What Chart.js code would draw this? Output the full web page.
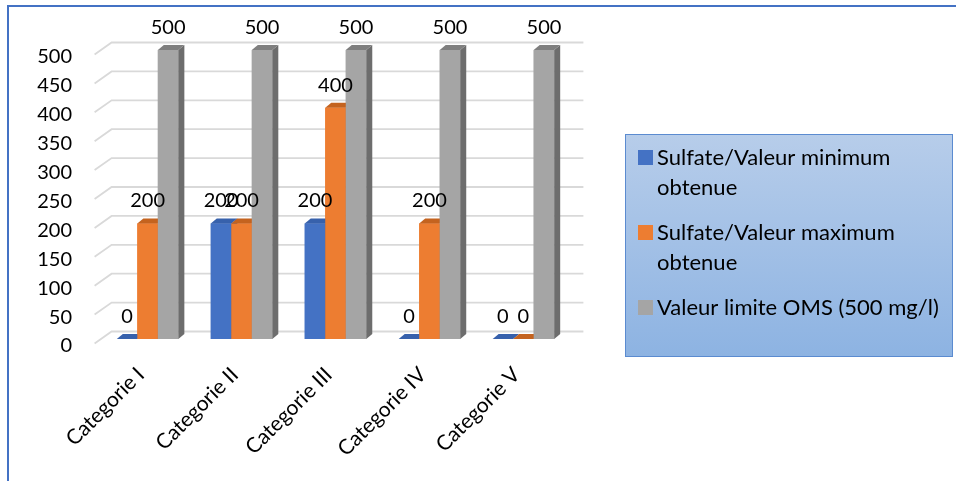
<!DOCTYPE html>
<html>
<head>
<meta charset="utf-8">
<script src="https://cdn.jsdelivr.net/npm/chart.js@4.4.0/dist/chart.umd.min.js"></script>
<style>
  html, body { margin: 0; padding: 0; background: #ffffff; }
  #wrap { position: relative; width: 956px; height: 481px; }
  canvas { display: block; }
</style>
</head>
<body>
<div id="wrap"><canvas id="c" width="956" height="481"></canvas></div>
<script>
// Sulfate concentrations (mg/l) per water category
const categories = ['Categorie I', 'Categorie II', 'Categorie III', 'Categorie IV', 'Categorie V'];
const sulfateMin = [0, 200, 200, 0, 0];
const sulfateMax = [200, 200, 400, 200, 0];
const limiteOMS = [500, 500, 500, 500, 500];
const seriesNames = ['Sulfate/Valeur minimum obtenue', 'Sulfate/Valeur maximum obtenue', 'Valeur limite OMS (500 mg/l)'];
const yMin = 0, yMax = 500, yStep = 50;

// front / top / side shading of each prism
const frontColors = ['#4472C4', '#ED7D31', '#A5A5A5'];
const topColors = ['#3761AC', '#C4631F', '#7F7F7F'];
const sideColors = ['#30579C', '#B45A1D', '#6D6D6D'];

const FONT = 'Lato, "Open Sans", sans-serif';
const DX = 6, DY = -5;   // bar depth offset

const prismPlugin = {
  id: 'prism',
  beforeDatasetsDraw(chart) {
    // back-wall grid with short floor diagonals
    const { ctx, chartArea: a, scales: { y } } = chart;
    ctx.save();
    ctx.strokeStyle = '#d9d9d9';
    ctx.lineWidth = 1.8;
    y.ticks.forEach(t => {
      const py = y.getPixelForValue(t.value);
      ctx.beginPath();
      ctx.moveTo(a.left - 6, py + 4.5);
      ctx.lineTo(a.left + 11, py - 7.5);
      ctx.lineTo(a.right + 13, py - 7.5);
      ctx.stroke();
    });
    ctx.restore();
  },
  afterDatasetsDraw(chart) {
    const ctx = chart.ctx;
    ctx.save();
    // prisms, series in order so each one overlaps the previous
    chart.data.datasets.forEach((ds, i) => {
      chart.getDatasetMeta(i).data.forEach(bar => {
        const { x, y, base, width } = bar.getProps(['x', 'y', 'base', 'width'], true);
        const l = x - width / 2, r = x + width / 2;
        ctx.fillStyle = frontColors[i];
        ctx.fillRect(l, y, width, base - y);
        ctx.fillStyle = sideColors[i];
        ctx.beginPath();
        ctx.moveTo(r, y); ctx.lineTo(r + DX, y + DY); ctx.lineTo(r + DX, base + DY); ctx.lineTo(r, base);
        ctx.closePath(); ctx.fill();
        ctx.fillStyle = topColors[i];
        ctx.beginPath();
        ctx.moveTo(l, y); ctx.lineTo(r, y); ctx.lineTo(r + DX, y + DY); ctx.lineTo(l + DX, y + DY);
        ctx.closePath(); ctx.fill();
      });
    });
    // value labels
    ctx.font = '20px ' + FONT;
    ctx.fillStyle = '#000000';
    ctx.textAlign = 'center';
    ctx.textBaseline = 'alphabetic';
    chart.data.datasets.forEach((ds, i) => {
      chart.getDatasetMeta(i).data.forEach((bar, j) => {
        ctx.fillText(String(ds.data[j]), bar.x, bar.y - 16);
      });
    });
    ctx.restore();
  },
  afterDraw(chart) {
    const ctx = chart.ctx;
    const xs = chart.scales.x;
    ctx.save();
    // category labels at 45 degrees
    ctx.font = '21px ' + FONT;
    ctx.fillStyle = '#000000';
    ctx.textAlign = 'right';
    ctx.textBaseline = 'alphabetic';
    chart.data.labels.forEach((lab, i) => {
      const px = xs.getPixelForTick(i);
      ctx.save();
      ctx.translate(px - 2, xs.top + 37);
      ctx.rotate(-Math.PI / 4);
      ctx.fillText(lab, 0, 0);
      ctx.restore();
    });

    // frame
    ctx.fillStyle = '#4472C4';
    ctx.fillRect(7, 5, 949, 2);
    ctx.fillRect(7, 5, 2, 476);

    // legend box
    const bx = 625, by = 134, bw = 327, bh = 222;
    const g = ctx.createLinearGradient(0, by, 0, by + bh);
    g.addColorStop(0, '#B7CDEA');
    g.addColorStop(1, '#8DB3E2');
    ctx.fillStyle = g;
    ctx.fillRect(bx, by, bw, bh);
    ctx.strokeStyle = '#5B8BD0';
    ctx.lineWidth = 1;
    ctx.strokeRect(bx + 0.5, by + 0.5, bw, bh);

    ctx.font = '22px ' + FONT;
    ctx.textAlign = 'left';
    ctx.textBaseline = 'alphabetic';
    const maxW = 292, lineH = 29.5;
    let cy = 157.5;
    chart.data.datasets.forEach((ds, i) => {
      // wrap label
      const words = ds.label.split(' ');
      const lines = [];
      let cur = '';
      words.forEach(w => {
        const test = cur ? cur + ' ' + w : w;
        if (ctx.measureText(test).width > maxW && cur) { lines.push(cur); cur = w; }
        else cur = test;
      });
      if (cur) lines.push(cur);
      ctx.fillStyle = frontColors[i];
      ctx.fillRect(638, cy - 7.5, 15, 15);
      ctx.fillStyle = '#000000';
      lines.forEach((ln, k) => ctx.fillText(ln, 657, cy + 7.5 + k * lineH));
      cy += lines.length * lineH + 16;
    });
    ctx.restore();
  }
};

const datasets = [sulfateMin, sulfateMax, limiteOMS].map((vals, i) => ({
  label: seriesNames[i],
  data: vals,
  backgroundColor: frontColors[i],
  borderWidth: 0,
  clip: false
}));

new Chart(document.getElementById('c'), {
  type: 'bar',
  data: { labels: categories, datasets },
  options: {
    responsive: false,
    animation: false,
    events: [],
    layout: { padding: { left: 8, top: 50, right: 385.6, bottom: 0 } },
    datasets: { bar: { categoryPercentage: 0.655, barPercentage: 1.0 } },
    plugins: { legend: { display: false }, tooltip: { enabled: false } },
    scales: {
      x: {
        grid: { display: false, drawTicks: false },
        border: { display: false },
        ticks: { display: false },
        afterFit(scale) { scale.height = 142; }
      },
      y: {
        min: yMin,
        max: yMax,
        grid: { display: false, drawTicks: false },
        border: { display: false },
        ticks: {
          stepSize: yStep,
          padding: 28.6,
          labelOffset: 7,
          color: '#000000',
          font: { family: FONT, size: 20 }
        },
        afterFit(scale) { scale.width = 92.6; }
      }
    }
  },
  plugins: [prismPlugin]
});
</script>
</body>
</html>
